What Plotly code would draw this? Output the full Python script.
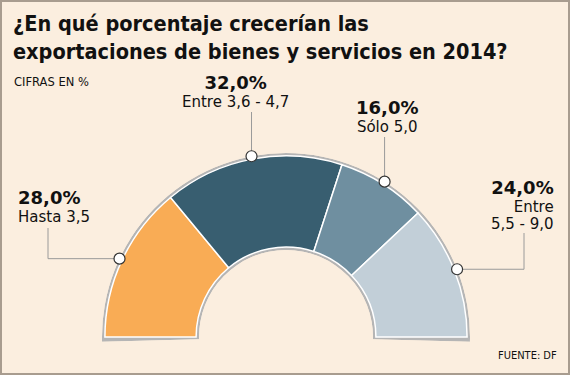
import math
import plotly.graph_objects as go

# ---- data ----
categories = ["Hasta 3,5", "Entre 3,6 - 4,7", "Sólo 5,0", "Entre<br>5,5 - 9,0"]
values = [28.0, 32.0, 16.0, 24.0]
pct_labels = ["28,0%", "32,0%", "16,0%", "24,0%"]
colors = ["#F9AC55", "#385E70", "#6F8FA0", "#C2CFD8"]

W, H = 570, 375
BG = "#FBEEDF"
TFONT = "DejaVu Sans Condensed"
LFONT = "DejaVu Sans"

# geometry (pixels)
cx, cy, R = 286.0, 337.0, 184.0
ext = 1.5  # degrees of extra gray ring below the horizontal
hole = 87.0 / R

total = sum(values)
widths = [v / total * 180.0 for v in values]
mids = []
acc = 0.0
for w in widths:
    mids.append(acc + w / 2.0)
    acc += w

fig = go.Figure()

# gray ring behind
fig.add_trace(go.Barpolar(
    r=[1.0], base=[0.0], theta=[90.0], width=[180.0 + 2 * ext],
    marker=dict(color="#B5B5B5", line=dict(width=0)),
    hoverinfo="skip", showlegend=False))

# coloured segments
fig.add_trace(go.Barpolar(
    r=[0.94] * len(values), base=[0.03] * len(values),
    theta=mids, width=widths,
    marker=dict(color=colors, line=dict(color="white", width=1.5)),
    text=categories, hoverinfo="text", showlegend=False))

# dots on the outer edge
fig.add_trace(go.Scatterpolar(
    r=[1.0] * len(values), theta=mids, mode="markers", cliponaxis=False,
    marker=dict(size=11, color="white", line=dict(color="#333333", width=1.2)),
    hoverinfo="skip", showlegend=False))

top = cy - R
bottom = cy + R * math.sin(math.radians(ext))
fig.update_layout(
    width=W, height=H,
    margin=dict(l=0, r=0, t=0, b=0),
    paper_bgcolor=BG, plot_bgcolor=BG,
    polar=dict(
        domain=dict(x=[(cx - R) / W, (cx + R) / W], y=[1 - bottom / H, 1 - top / H]),
        sector=[-ext, 180 + ext],
        hole=hole,
        bgcolor="rgba(0,0,0,0)",
        radialaxis=dict(visible=False, range=[0, 1]),
        angularaxis=dict(visible=False, direction="clockwise", rotation=180),
    ),
    font=dict(family=LFONT, color="#111111"),
)

def px(x):
    return x / W

def py(y):
    return 1 - y / H

# dot positions in pixels (derived from the data angles)
dots = []
for m in mids:
    a = math.radians(m)
    dots.append((cx - R * math.cos(a), cy - R * math.sin(a)))

shapes = []
line_style = dict(color="#9A9A9A", width=1)
d = dots[0]
shapes.append(dict(type="path", xref="paper", yref="paper",
                   path=f"M {px(d[0])},{py(d[1])} L {px(48)},{py(d[1])} L {px(48)},{py(228)}",
                   line=line_style, layer="below"))
d = dots[1]
shapes.append(dict(type="line", xref="paper", yref="paper",
                   x0=px(d[0]), y0=py(d[1]), x1=px(d[0]), y1=py(112),
                   line=line_style, layer="below"))
d = dots[2]
shapes.append(dict(type="line", xref="paper", yref="paper",
                   x0=px(d[0]), y0=py(d[1]), x1=px(d[0]), y1=py(137),
                   line=line_style, layer="below"))
d = dots[3]
shapes.append(dict(type="path", xref="paper", yref="paper",
                   path=f"M {px(d[0])},{py(d[1])} L {px(524)},{py(d[1])} L {px(524)},{py(233)}",
                   line=line_style, layer="below"))
# outer frame
shapes.append(dict(type="rect", xref="paper", yref="paper",
                   x0=px(1), y0=py(374), x1=px(569), y1=py(1),
                   line=dict(color="#A89C8F", width=2), fillcolor="rgba(0,0,0,0)"))

ann = []
# title
ann.append(dict(text="<b>¿En qué porcentaje crecerían las<br>exportaciones de bienes y servicios en 2014?</b>",
                x=px(11), y=py(9), xref="paper", yref="paper", xanchor="left", yanchor="top",
                align="left", showarrow=False,
                font=dict(size=21.5, family=TFONT, color="#111111")))
ann.append(dict(text="CIFRAS EN %", x=px(12), y=py(82), xref="paper", yref="paper",
                xanchor="left", yanchor="middle", showarrow=False,
                font=dict(size=11.5, family=LFONT, color="#111111")))
ann.append(dict(text="FUENTE: DF", x=px(559), y=py(355), xref="paper", yref="paper",
                xanchor="right", yanchor="middle", showarrow=False,
                font=dict(size=11, family=TFONT, color="#111111")))

def label(i, x, y, xanchor):
    txt = (f"<span style='font-size:18px'><b>{pct_labels[i]}</b></span><br>"
           f"<span style='font-size:15px'>{categories[i]}</span>")
    ann.append(dict(text=txt, x=px(x), y=py(y), xref="paper", yref="paper",
                    xanchor=xanchor, yanchor="middle", align=xanchor if xanchor != "center" else "center",
                    showarrow=False, font=dict(size=13.5, family=LFONT, color="#111111")))

label(0, 16, 206, "left")
label(1, 235, 92, "center")
label(2, 387, 116, "center")
label(3, 556, 205, "right")

fig.update_layout(shapes=shapes, annotations=ann)
fig.write_html("out.html", config={"displayModeBar": False},
               post_script="document.body.style.margin='0';document.body.style.overflow='hidden';")
